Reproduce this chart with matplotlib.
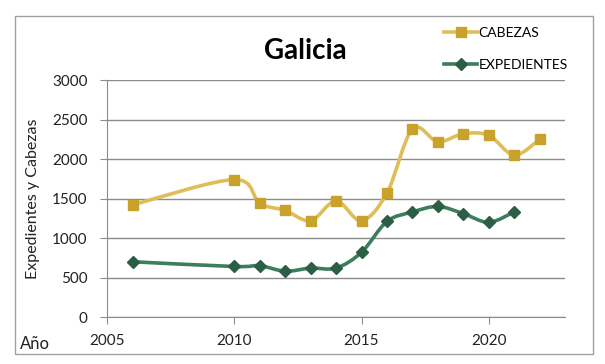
import matplotlib
matplotlib.use('Agg')
import matplotlib.pyplot as plt
from matplotlib.path import Path
from matplotlib.patches import PathPatch, Rectangle
from matplotlib.lines import Line2D

plt.rcParams['font.family'] = ['Lato', 'DejaVu Sans']

# datos
anos_cab = [2006, 2010, 2011, 2012, 2013, 2014, 2015, 2016, 2017, 2018, 2019, 2020, 2021, 2022]
cabezas = [1420, 1740, 1440, 1350, 1220, 1470, 1220, 1570, 2380, 2220, 2320, 2300, 2050, 2250]
anos_exp = [2006, 2010, 2011, 2012, 2013, 2014, 2015, 2016, 2017, 2018, 2019, 2020, 2021]
expedientes = [700, 640, 650, 580, 620, 620, 820, 1210, 1330, 1400, 1310, 1200, 1330]
y_ticks = [0, 500, 1000, 1500, 2000, 2500, 3000]
x_ticks = [2005, 2010, 2015, 2020]

col_cab_line = '#DFBE58'
col_cab_mark = '#C9A22B'
col_exp_line = '#3C7D5E'
col_exp_mark = '#2C5E46'


def curva_suave(ax, xs, ys, color, lw):
    # linea suavizada tipo Excel (bezier cubica)
    n = len(xs)
    verts = [(xs[0], ys[0])]
    codes = [Path.MOVETO]
    for i in range(n - 1):
        x0, y0 = (xs[i - 1], ys[i - 1]) if i > 0 else (xs[i], ys[i])
        x1, y1 = xs[i], ys[i]
        x2, y2 = xs[i + 1], ys[i + 1]
        x3, y3 = (xs[i + 2], ys[i + 2]) if i + 2 < n else (x2, y2)
        c1 = (x1 + (x2 - x0) / 6, y1 + (y2 - y0) / 6)
        c2 = (x2 - (x3 - x1) / 6, y2 - (y3 - y1) / 6)
        verts += [c1, c2, (x2, y2)]
        codes += [Path.CURVE4] * 3
    ax.add_patch(PathPatch(Path(verts, codes), fill=False, edgecolor=color,
                           lw=lw, capstyle='round', joinstyle='round', zorder=3))


fig = plt.figure(figsize=(6.05, 3.64), dpi=100)
ax = fig.add_axes([0.177, 0.129, 0.757, 0.651])

curva_suave(ax, anos_cab, cabezas, col_cab_line, 2.6)
curva_suave(ax, anos_exp, expedientes, col_exp_line, 2.6)
ax.plot(anos_cab, cabezas, ls='none', marker='s', ms=7, color=col_cab_mark, zorder=4)
ax.plot(anos_exp, expedientes, ls='none', marker='D', ms=6.5, color=col_exp_mark, zorder=4)

ax.set_xlim(2005, 2023)
ax.set_ylim(0, 3000)
ax.set_xticks(x_ticks)
ax.set_yticks(y_ticks)
ax.grid(True, axis='y', color='#8c8c8c', lw=1)
ax.set_axisbelow(True)
for s in ['top', 'right']:
    ax.spines[s].set_visible(False)
for s in ['left', 'bottom']:
    ax.spines[s].set_color('#8c8c8c')
ax.tick_params(axis='both', colors='#8c8c8c', labelcolor='#222222', labelsize=11, length=5)
ax.tick_params(axis='x', pad=7)
ax.tick_params(axis='y', pad=9)
ax.set_ylabel('Expedientes y Cabezas', fontsize=11.5, color='#222222', labelpad=9)

fig.text(0.505, 0.86, 'Galicia', fontsize=20, fontweight='bold', ha='center', va='center')
fig.text(0.057, 0.055, 'Año', fontsize=12, ha='center', va='center', color='#222222')

# leyenda
leg_handles = [
    Line2D([], [], color=col_cab_line, lw=2.6, marker='s', ms=7,
           markerfacecolor=col_cab_mark, markeredgecolor=col_cab_mark),
    Line2D([], [], color=col_exp_line, lw=2.6, marker='D', ms=6,
           markerfacecolor=col_exp_mark, markeredgecolor=col_exp_mark),
]
fig.legend(leg_handles, ['CABEZAS', 'EXPEDIENTES'], loc='upper left',
           bbox_to_anchor=(0.713, 0.96), frameon=False, fontsize=10,
           handlelength=2.4, handletextpad=0.1, labelspacing=1.45)

fig.add_artist(Rectangle((0.024, 0.027), 0.956, 0.928, transform=fig.transFigure,
                         fill=False, edgecolor='#a0a0a0', lw=1))

fig.savefig('out.png', dpi=100)
